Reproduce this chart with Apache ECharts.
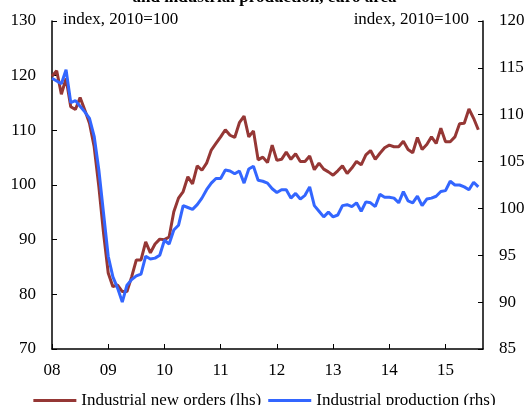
<!DOCTYPE html>
<html>
<head>
<meta charset="utf-8">
<script src="https://cdn.jsdelivr.net/npm/echarts@6/dist/echarts.min.js"></script>
<style>
  html, body { margin: 0; padding: 0; background: #fff; }
  #chart { width: 529px; height: 405px; }
</style>
</head>
<body>
<div id="chart"></div>
<script>
// months Jan 2008 .. Sep 2015 (last one only extends the axis)
var months = [];
for (var y = 2008; y <= 2015; y++) {
    for (var m = 1; m <= 12; m++) {
        if (y === 2015 && m > 9) break;
        months.push(y + '-' + (m < 10 ? '0' + m : m));
    }
}

// Industrial new orders (lhs), Jan 2008 - Aug 2015
var newOrders = [
    119.9, 120.9, 116.6, 119.5, 114.3, 113.8, 116.0, 113.7, 111.3, 107.0, 99.7, 91.2,
    83.9, 81.4, 81.7, 80.5, 80.5, 83.2, 86.3, 86.3, 89.6, 87.6, 89.2, 90.1,
    90.0, 90.5, 95.1, 97.6, 98.8, 101.5, 100.2, 103.5, 102.7, 104.0, 106.4, 107.6,
    108.8, 110.1, 109.1, 108.7, 111.4, 112.6, 108.8, 109.9, 104.6, 105.1, 104.1, 107.3,
    104.5, 104.7, 106.0, 104.7, 105.7, 104.3, 104.3, 105.3, 102.8, 104.0, 102.9, 102.4,
    101.8, 102.6, 103.5, 102.1, 103.1, 104.3, 103.7, 105.5, 106.3, 104.7, 105.8, 106.8,
    107.3, 107.0, 107.0, 108.0, 106.5, 105.9, 108.7, 106.5, 107.4, 108.8, 107.6, 110.4,
    107.9, 107.9, 108.8, 111.2, 111.3, 113.9, 112.2, 110.1
];

// Industrial production (rhs), Jan 2008 - Aug 2015
var production = [
    113.9, 113.6, 113.3, 114.8, 111.3, 111.5, 110.9, 110.3, 109.6, 107.7, 104.1, 99.5,
    94.9, 92.7, 91.5, 90.0, 91.8, 92.4, 92.8, 93.0, 94.9, 94.6, 94.7, 95.0,
    96.6, 96.2, 97.7, 98.2, 100.3, 100.1, 99.9, 100.4, 101.1, 102.0, 102.7, 103.2,
    103.2, 104.1, 104.0, 103.7, 104.0, 102.7, 104.2, 104.5, 103.0, 102.9, 102.7, 102.1,
    101.7, 102.0, 102.0, 101.1, 101.6, 101.0, 101.4, 102.3, 100.3, 99.7, 99.1, 99.6,
    99.1, 99.3, 100.3, 100.4, 100.2, 100.6, 99.7, 100.7, 100.6, 100.2, 101.5, 101.2,
    101.2, 101.1, 100.6, 101.8, 100.8, 100.6, 101.3, 100.3, 101.0, 101.1, 101.3, 101.8,
    101.9, 102.9, 102.5, 102.5, 102.3, 102.0, 102.8, 102.3
];

var leftTicks = { min: 70, max: 130, interval: 10 };
var rightTicks = { min: 85, max: 120, interval: 5 };

var font = 'Liberation Serif';
var isJan = function (i, v) { return v.slice(5) === '01'; };

var myChart = echarts.init(document.getElementById('chart'));

var option = {
    animation: false,
    textStyle: { fontFamily: font },
    grid: { left: 52, right: 46, top: 21, bottom: 56 },
    graphic: [
        { type: 'text', left: 'center', top: -11,
          style: { text: 'and industrial production, euro area', font: 'bold 17px ' + font, fill: '#000' } },
        { type: 'text', left: 63, top: 11,
          style: { text: 'index, 2010=100', font: '17px ' + font, fill: '#000' } },
        { type: 'text', right: 60, top: 11,
          style: { text: 'index, 2010=100', font: '17px ' + font, fill: '#000' } }
    ],
    legend: {
        top: 392,
        left: 'center',
        padding: 0,
        icon: 'rect',
        itemWidth: 43,
        itemHeight: 3,
        itemGap: 7,
        textStyle: { fontFamily: font, fontSize: 17, color: '#000' },
        data: ['Industrial new orders (lhs)', 'Industrial production (rhs)']
    },
    xAxis: {
        type: 'category',
        data: months,
        boundaryGap: false,
        axisLine: { lineStyle: { color: '#000', width: 1.5 } },
        axisTick: { inside: true, length: 5, interval: isJan, lineStyle: { color: '#000' } },
        axisLabel: {
            interval: isJan,
            margin: 13,
            fontFamily: font,
            fontSize: 17,
            color: '#000',
            formatter: function (v) { return v.slice(2, 4); }
        },
        splitLine: { show: false }
    },
    yAxis: [
        {
            type: 'value',
            min: leftTicks.min, max: leftTicks.max, interval: leftTicks.interval,
            axisLine: { show: true, lineStyle: { color: '#000', width: 1.5 } },
            axisTick: { show: true, inside: true, length: 5, lineStyle: { color: '#000' } },
            axisLabel: { margin: 16, fontFamily: font, fontSize: 17, color: '#000' },
            splitLine: { show: false }
        },
        {
            type: 'value',
            position: 'right',
            min: rightTicks.min, max: rightTicks.max, interval: rightTicks.interval,
            axisLine: { show: true, lineStyle: { color: '#000', width: 1.5 } },
            axisTick: { show: true, inside: true, length: 5, lineStyle: { color: '#000' } },
            axisLabel: { margin: 16, fontFamily: font, fontSize: 17, color: '#000' },
            splitLine: { show: false }
        }
    ],
    series: [
        {
            name: 'Industrial new orders (lhs)',
            type: 'line',
            yAxisIndex: 0,
            data: newOrders,
            showSymbol: false,
            symbol: 'none',
            lineStyle: { color: '#953735', width: 3 },
            itemStyle: { color: '#953735' }
        },
        {
            name: 'Industrial production (rhs)',
            type: 'line',
            yAxisIndex: 1,
            data: production,
            showSymbol: false,
            symbol: 'none',
            lineStyle: { color: '#3366ff', width: 3 },
            itemStyle: { color: '#3366ff' }
        }
    ]
};

myChart.setOption(option);
window.addEventListener('resize', function () {
    myChart.resize();
});
</script>
</body>
</html>
